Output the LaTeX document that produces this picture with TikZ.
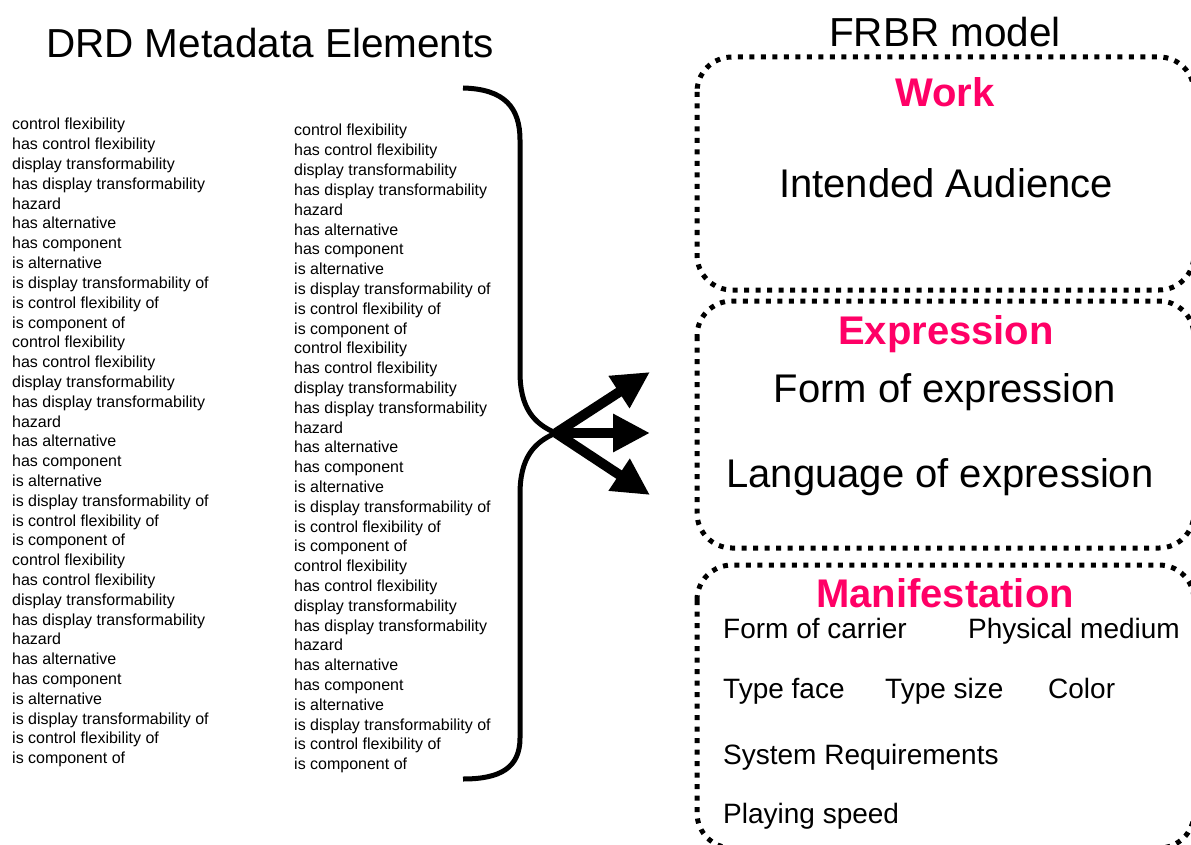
\documentclass[tikz,border=0pt]{standalone}
\usepackage{fontspec}
\setmainfont{Liberation Sans}
\usetikzlibrary{arrows.meta}
\definecolor{frbrpink}{RGB}{255,0,102}
\begin{document}
\begin{tikzpicture}[x=1pt,y=-1pt,
  item/.style={anchor=base west,inner sep=0pt,font=\fontsize{16}{18}\selectfont},
  heading/.style={anchor=base,inner sep=0pt,font=\fontsize{40.5}{44}\selectfont},
  entity/.style={anchor=base,inner sep=0pt,text=frbrpink,font=\fontsize{40}{44}\selectfont\bfseries},
  attr/.style={anchor=base,inner sep=0pt,font=\fontsize{40}{44}\selectfont},
  mattr/.style={anchor=base west,inner sep=0pt,font=\fontsize{28}{32}\selectfont},
  groupbox/.style={line width=5pt,dash pattern=on 5pt off 6.5pt,rounded corners=35pt},
  brace/.style={line width=5pt},
  fan/.style={line width=10pt,-{Triangle[length=37pt,width=36pt]}}]
\clip (0,0) rectangle (1191,845);
\fill[white] (0,0) rectangle (1191,845);

% headings
\node[heading] (drd) at (270,58) {DRD Metadata Elements};
\node[heading] (frbr) at (945,47) {FRBR model};

% two columns of metadata elements
\foreach \col/\x/\y in {1/12/130, 2/294/136}{
  \foreach \b in {0,1,2}{
    \foreach \t [count=\i from 0] in {control flexibility, has control flexibility,
      display transformability, has display transformability, hazard,
      has alternative, has component, is alternative,
      is display transformability of, is control flexibility of, is component of}{
      \node[item] (e\col-\b-\i) at (\x,{\y+(\b*11+\i)*19.8}) {\t};
    }
  }
}

% brace gathering the elements
\coordinate (bt) at (463,88);
\coordinate (bp) at (556,433);
\coordinate (bb) at (463,779);
\draw[brace] (bt) .. controls (505,89) and (520,108) .. (520,140) -- (520,372)
  .. controls (520,408) and (534,424) .. (bp)
  .. controls (534,442) and (520,458) .. (520,494) -- (520,738)
  .. controls (520,768) and (500,779) .. (bb);

% arrows fanning out to the model
\coordinate (f1) at (650,372);
\coordinate (f2) at (650,433);
\coordinate (f3) at (650,495);
\draw[fan] (bp) -- (f1);
\draw[fan] (bp) -- (f2);
\draw[fan] (bp) -- (f3);

% FRBR groups
\draw[groupbox] (697,57) rectangle (1194,290);
\draw[groupbox] (697,301) rectangle (1194,548);
\draw[groupbox] (697,565) rectangle (1194,848);

\node[entity] (work) at (945,107) {Work};
\node[attr] (aud) at (946,198) {Intended Audience};

\node[entity] (expr) at (946,344) {Expression};
\node[attr] (foe) at (945,402) {Form of expression};
\node[attr] (loe) at (940,487) {Language of expression};

\node[entity] (man) at (945,607) {Manifestation};
\node[mattr] (foc) at (723,638) {Form of carrier};
\node[mattr] (pm) at (968,638) {Physical medium};
\node[mattr] (tf) at (723,698) {Type face};
\node[mattr] (ts) at (885,698) {Type size};
\node[mattr] (col) at (1048,698) {Color};
\node[mattr] (sr) at (723,764) {System Requirements};
\node[mattr] (ps) at (723,823) {Playing speed};
\end{tikzpicture}
\end{document}
